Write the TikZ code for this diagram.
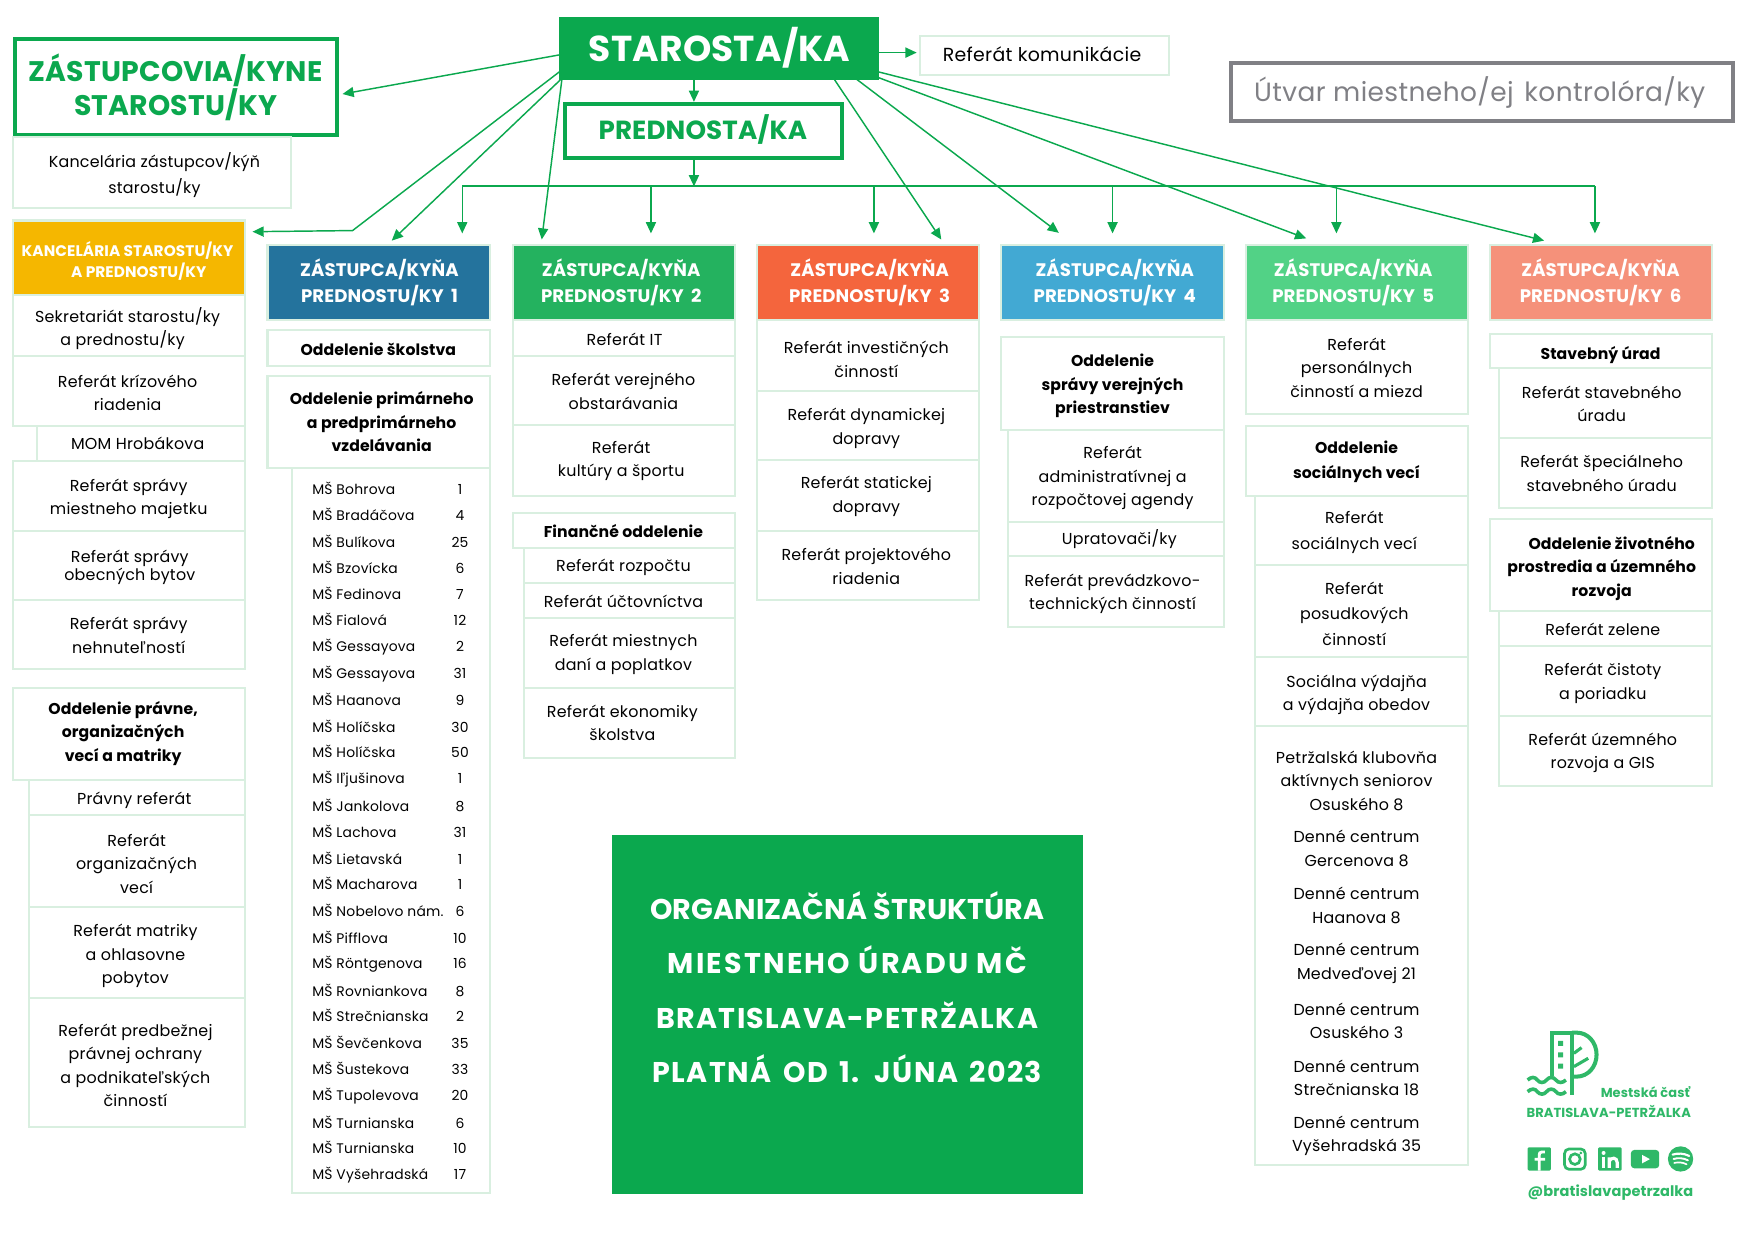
\documentclass[tikz,border=0pt]{standalone}
\usepackage{fontspec}
\setmainfont{Poppins}[LetterSpace=1.5,BoldFeatures={LetterSpace=0.5}]
\newfontfamily\ftA{Poppins}[LetterSpace=7.9]
\newfontfamily\ftB{Poppins}[LetterSpace=4.8]
\newfontfamily\ftC{Poppins}[LetterSpace=5.4]
\usetikzlibrary{arrows.meta,calc}
\definecolor{gr}{HTML}{0BA84E}
\definecolor{lb}{HTML}{D9EFE0}
\definecolor{lg}{HTML}{2FB868}
\definecolor{gy}{HTML}{808085}
\definecolor{cK}{HTML}{F5B700}
\definecolor{cA}{HTML}{24739D}
\definecolor{cB}{HTML}{24B25F}
\definecolor{cC}{HTML}{F4653D}
\definecolor{cD}{HTML}{42A9D3}
\definecolor{cE}{HTML}{52D286}
\definecolor{cF}{HTML}{F5917A}
\newcommand{\fbody}{\fontsize{14.2}{21}\selectfont}
\newcommand{\fbold}{\fontsize{14}{21}\selectfont\bfseries}
\newcommand{\fhead}{\fontsize{16.2}{23}\selectfont\bfseries}
\newcommand{\fms}{\fontsize{12.4}{14}\selectfont}
\tikzset{
 boxbase/.style={rectangle,inner sep=0pt,outer sep=0pt,draw=lb,line width=1.8pt,fill=white,font=\fbody,text=black},
 boldbox/.style={font=\fbold},
 headbox/.style={fill=#1,font=\fhead,text=white},
 framebox/.style={draw=gr,line width=3.6pt,text=gr},
 arr/.style={draw=gr,line width=1.3pt,-{Triangle[length=10pt,width=9pt]}},
 trunk/.style={draw=gr,line width=1.9pt},
 mstext/.style={font=\fms,text=black,inner sep=0pt,outer sep=0pt,text height=13pt,text depth=3pt},
 logotext/.style={text=lg,inner sep=0pt,outer sep=0pt},
 logoline/.style={draw=lg,line width=3.6pt},
}
\newcommand{\bx}[9][]{%
 \pgfmathsetmacro\bxw{#5-#3}\pgfmathsetmacro\bxh{#6-#4}%
 \pgfmathsetmacro\bxdx{2*(#7-(#3+#5)/2)}%
 \pgfmathsetmacro\bxdy{(#4+#6)/2-#8}%
 \node[boxbase,#1,minimum width=\bxw pt,minimum height=\bxh pt] (#2) at ({(#3+#5)/2},{(#4+#6)/2})
 {\hspace*{\bxdx pt}\raisebox{\dimexpr\bxdy pt-0.25em-1.7pt\relax}[0pt][0pt]{\begin{tabular}{@{}c@{}}#9\end{tabular}}};%
}
\begin{document}
\begin{tikzpicture}[x=1pt,y=-1pt]
\useasboundingbox (0,0) rectangle (1568,1108.9);
% top
\bx[fill=gr,draw=gr,text=white,font=\fontsize{32.2}{38}\selectfont\bfseries]{star}{500}{16}{784}{71}{643}{41.5}{STAROSTA/KA}
\bx[framebox,font=\fontsize{25.3}{31}\selectfont\bfseries]{zast}{13}{35}{301}{121}{157}{78.5}{ZÁSTUPCOVIA/KYNE\\[-3pt]STAROSTU/KY}
\bx{kzast}{12}{122}{260}{186}{138}{155.5}{Kancelária zástupcov/kýň\\[2pt]starostu/ky}
\bx[font=\fontsize{16.9}{21}\selectfont]{kom}{822}{32}{1044}{67}{931}{49}{Referát komunikácie}
\bx[draw=gy,line width=3.6pt,text=gy,font=\fontsize{23.6}{30}\selectfont]{utvar}{1100}{56}{1548}{108}{1322}{83}{Útvar miestneho/ej\hspace{3pt} kontrolóra/ky}
\bx[framebox,font=\fontsize{23.4}{30}\selectfont\bfseries]{pred}{505}{93}{752}{141}{628}{117}{PREDNOSTA/KA}
% headers
\bx[headbox=cK,font=\fontsize{13.7}{19}\selectfont\bfseries]{kanc}{12}{197}{219}{264}{114}{233.5}{KANCELÁRIA STAROSTU/KY\\\hspace*{20pt}A PREDNOSTU/KY}
\bx[headbox=cA]{z1}{239}{219}{438}{286}{339}{252.5}{ZÁSTUPCA/KYŇA\\PREDNOSTU/KY\hspace{3pt} 1}
\bx[headbox=cB]{z2}{458}{219}{657}{286}{555}{252.5}{ZÁSTUPCA/KYŇA\\PREDNOSTU/KY\hspace{3pt} 2}
\bx[headbox=cC]{z3}{676}{219}{875}{286}{777}{252.5}{ZÁSTUPCA/KYŇA\\PREDNOSTU/KY\hspace{3pt} 3}
\bx[headbox=cD]{z4}{894}{219}{1094}{286}{996}{252.5}{ZÁSTUPCA/KYŇA\\PREDNOSTU/KY\hspace{3pt} 4}
\bx[headbox=cE]{z5}{1113}{219}{1312}{286}{1209}{252.5}{ZÁSTUPCA/KYŇA\\PREDNOSTU/KY\hspace{3pt} 5}
\bx[headbox=cF]{z6}{1331}{219}{1530}{286}{1430}{252.5}{ZÁSTUPCA/KYŇA\\PREDNOSTU/KY\hspace{3pt} 6}
% column 0
\bx{a1}{12}{264}{219}{318}{114}{292.5}{Sekretariát starostu/ky\\\hspace*{-9pt}a prednostu/ky}
\bx{a2}{12}{318}{219}{381}{114}{350.5}{Referát krízového\\riadenia}
\bx{a3}{33}{381}{219}{412}{123}{396}{MOM Hrobákova}
\bx{a4}{12}{412}{219}{474}{115}{443.5}{Referát správy\\miestneho majetku}
\bx{a5}{12}{474}{219}{536}{116}{505}{Referát správy\\[-5pt]obecných bytov}
\bx{a6}{12}{536}{219}{598}{115}{567.5}{Referát správy\\nehnuteľností}
\bx[boldbox]{a7}{12}{615}{219}{697}{110}{653.5}{Oddelenie právne,\\organizačných\\vecí a matriky}
\bx{a8}{26}{697}{219}{728}{120}{713}{Právny referát}
\bx{a9}{26}{728}{219}{810}{122}{771}{Referát\\organizačných\\vecí}
\bx{a10}{26}{810}{219}{892}{121}{852}{Referát matriky\\a ohlasovne\\pobytov}
\bx{a11}{26}{892}{219}{1007}{121}{951.5}{Referát predbežnej\\právnej ochrany\\a podnikateľských\\činností}
% column 1
\bx[boldbox]{b1}{239}{295}{438}{327}{338}{312}{Oddelenie školstva}
\bx[boldbox]{b2}{239}{336}{438}{418}{341}{377}{Oddelenie primárneho\\a predprimárneho\\vzdelávania}
\node[boxbase,minimum width=177pt,minimum height=648pt] (b3) at (349.5,742) {};
\foreach \i/\t/\m/\y in {1/Bohrova/1/437,2/Bradáčova/4/460,3/Bulíkova/25/484,4/Bzovícka/6/507,5/Fedinova/7/531,6/Fialová/12/554,7/Gessayova/2/577,8/Gessayova/31/601,9/Haanova/9/625,10/Holíčska/30/649,11/Holíčska/50/672,12/Iľjušinova/1/695,13/Jankolova/8/720,14/Lachova/31/743,15/Lietavská/1/767,16/Macharova/1/790,17/Nobelovo nám./6/814,18/Pifflova/10/838,19/Röntgenova/16/860,20/Rovniankova/8/885,21/Strečnianska/2/908,22/Ševčenkova/35/932,23/Šustekova/33/955,24/Tupolevova/20/978,25/Turnianska/6/1003,26/Turnianska/10/1026,27/Vyšehradská/17/1049}{
  \node[mstext,anchor=west] (msn\i) at (279,\y) {MŠ \t};
  \node[mstext] (msc\i) at (411,\y) {\m};
}
% column 2
\bx{c1}{458}{286}{657}{318}{558}{303}{Referát IT}
\bx{c2}{458}{318}{657}{380}{557}{349.5}{Referát verejného\\obstarávania}
\bx{c3}{458}{380}{657}{443}{555}{409.5}{Referát\\kultúry a športu}
\bx[boldbox]{c4}{458}{458}{657}{490}{557}{474}{Finančné oddelenie}
\bx{c5}{468}{490}{657}{521}{557}{505}{Referát rozpočtu}
\bx{c6}{468}{521}{657}{552}{557}{537}{Referát účtovníctva}
\bx{c7}{468}{552}{657}{615}{557}{582.5}{Referát miestnych\\daní a poplatkov}
\bx{c8}{468}{615}{657}{677}{556}{645.5}{Referát ekonomiky\\školstva}
% column 3
\bx{d1}{676}{286}{875}{349}{774}{320.5}{Referát investičných\\činností}
\bx{d2}{676}{349}{875}{411}{774}{380.5}{Referát dynamickej\\dopravy}
\bx{d3}{676}{411}{875}{474}{774}{441.5}{Referát statickej\\dopravy}
\bx{d4}{676}{474}{875}{536}{774}{505.5}{Referát projektového\\riadenia}
% column 4
\bx[boldbox]{e1}{894}{301}{1094}{384}{994}{343}{Oddelenie\\správy verejných\\priestranstiev}
\bx{e2}{901}{384}{1094}{466}{994}{425}{Referát\\administratívnej a\\rozpočtovej agendy}
\bx{e3}{901}{466}{1094}{497}{1000}{481}{Upratovači/ky}
\bx{e4}{901}{497}{1094}{560}{994}{528.5}{Referát prevádzkovo-\\technických činností}
% column 5
\bx{f1}{1113}{286}{1312}{370}{1212}{328}{Referát\\personálnych\\činností a miezd}
\bx[boldbox]{f2}{1113}{381}{1312}{443}{1212}{410.5}{Oddelenie\\[2pt]sociálnych vecí}
\bx{f3}{1121}{443}{1312}{505}{1210}{473.5}{Referát\\[2pt]sociálnych vecí}
\bx{f4}{1121}{505}{1312}{587}{1210}{548}{Referát\\[2pt]posudkových\\[2pt]činností}
\bx{f5}{1121}{587}{1312}{649}{1212}{618.5}{Sociálna výdajňa\\a výdajňa obedov}
\bx{f6}{1121}{649}{1312}{1041}{1212}{849.5}{Petržalská klubovňa\\aktívnych seniorov\\Osuského 8\\[8pt]Denné centrum\\Gercenova 8\\[9pt]Denné centrum\\Haanova 8\\[8pt]Denné centrum\\Medveďovej 21\\[11pt]Denné centrum\\Osuského 3\\[9pt]Denné centrum\\Strečnianska 18\\[8pt]Denné centrum\\Vyšehradská 35}
% column 6
\bx[boldbox]{g1}{1331}{298}{1530}{329}{1430}{315}{Stavebný úrad}
\bx{g2}{1339}{329}{1530}{391}{1431}{360.5}{Referát stavebného\\úradu}
\bx{g3}{1339}{391}{1530}{454}{1431}{422.5}{Referát špeciálneho\\stavebného úradu}
\bx[boldbox]{g4}{1331}{464}{1530}{546}{1431}{506}{\hspace*{18pt}Oddelenie životného\\prostredia a územného\\rozvoja}
\bx{g5}{1339}{546}{1530}{577}{1432}{562}{Referát zelene}
\bx{g6}{1339}{577}{1530}{640}{1432}{608.5}{Referát čistoty\\a poriadku}
\bx{g7}{1339}{640}{1530}{702}{1432}{670.5}{Referát územného\\rozvoja a GIS}
% title
\bx[fill=gr,draw=gr,text=white,font=\fontsize{25.5}{48.4}\selectfont\bfseries]{title}{548}{747}{967}{1066}{757}{882.8}{ORGANIZAČNÁ ŠTRUKTÚRA\\\ftA\bfseries MIESTNEHO ÚRADU MČ\\\ftB\bfseries BRATISLAVA-PETRŽALKA\\\ftC\bfseries PLATNÁ\hspace{4pt} OD\hspace{3pt} 1.\hspace{4pt} JÚNA\hspace{3pt} 2023}
% connectors
\draw[arr] ($(star.north west)+(0,33)$) -- ($(zast.north east)+(5,49)$);
\draw[arr] ($(star.north west)+(0,48)$) -- ($(kanc.north east)+(96,9)$) -- ($(kanc.north east)+(6.6,10)$);
\draw[arr] ($(star.south west)+(1,0)$) -- ($(z1.north west)+(111,-4)$);
\draw[arr] ($(star.south west)+(2,0)$) -- ($(z2.north west)+(26,-5)$);
\draw[arr] ($(star.south west)+(120,0)$) -- ($(pred.north west)+(115,-2)$);
\coordinate (busL) at (413,166.5);
\coordinate (busM) at (620,166.5);
\coordinate (busR) at (1425,166.5);
\draw[trunk] (busL) -- (busR);
\draw[arr] ($(pred.south west)+(115,2)$) -- (busM);
\draw[arr] (busL) -- ($(z1.north west)+(174,-10.5)$);
\draw[arr] (581.6,166.5) -- ($(z2.north west)+(123.6,-10.5)$);
\draw[arr] (780.8,166.5) -- ($(z3.north west)+(104.8,-10.5)$);
\draw[arr] (994,166.5) -- ($(z4.north west)+(100,-10.5)$);
\draw[arr] (1194,166.5) -- ($(z5.north west)+(81,-10.5)$);
\draw[arr] (busR) -- ($(z6.north west)+(94,-10.5)$);
\draw[arr] ($(star.south west)+(245.5,0)$) -- ($(z3.north west)+(165,-5)$);
\draw[arr] ($(star.south west)+(265.6,0)$) -- ($(z4.north west)+(52,-11)$);
\draw[arr] ($(star.south east)+(0,-2)$) -- ($(z5.north west)+(54,-6)$);
\draw[arr] ($(star.south east)+(0,-7)$) -- ($(z6.north west)+(48.6,-4)$);
\draw[arr] ($(star.north east)+(0,31)$) -- ($(kom.north west)+(-3,15)$);
% logo
\begin{scope}[shift={(1322.2,893.4)},x=0.2978pt,y=-0.2978pt]
 \draw[logoline,line join=miter] (215,228) -- (215,98) -- (276,98) -- (276,285);
 \draw[logoline] (276,98) -- (290,98) .. controls (325,98) and (350,128) .. (350,164) .. controls (350,200) and (325,230) .. (290,230) -- (276,230);
 \fill[lg] (235,123) rectangle (250,138) (235,157) rectangle (250,172) (235,191) rectangle (250,206);
 \draw[logoline,line width=2.8pt] (282,160) -- (305,143) (282,200) -- (325,175);
 \draw[logoline,line width=3.2pt] (143,240) .. controls (155,230) and (165,230) .. (172,240) .. controls (180,250) and (192,250) .. (200,240) .. controls (208,230) and (220,230) .. (228,240) .. controls (235,250) and (248,250) .. (258,240);
 \draw[logoline,line width=3.2pt] (143,275) .. controls (155,265) and (165,265) .. (172,275) .. controls (180,285) and (192,285) .. (200,275) .. controls (208,265) and (220,265) .. (228,275) .. controls (235,285) and (248,285) .. (258,275);
 \node[logotext,anchor=east,font=\fontsize{11.6}{14}\selectfont\bfseries] (lgm) at (630,275) {Mestská časť};
 \node[logotext,anchor=west,font=\fontsize{11.7}{14}\selectfont\bfseries] (lgb) at (140,333) {BRATISLAVA-PETRŽALKA};
 \node[logotext,anchor=west,font=\fontsize{13}{16}\selectfont\bfseries] (lgh) at (143,577) {@bratislavapetrzalka};
 % facebook
 \fill[lg,rounded corners=1.2pt] (143,442) rectangle (213,512);
 \draw[white,line width=2.6pt] (195,456) -- (186,456) .. controls (180,456) and (178,460) .. (178,466) -- (178,512) (164,478) -- (196,478);
 % instagram
 \draw[lg,line width=2.4pt,rounded corners=4pt] (254,447) rectangle (316,508);
 \draw[lg,line width=2.4pt] (285,477.5) circle [radius=16];
 \fill[lg] (303,459) circle [radius=4.5];
 % linkedin
 \fill[lg,rounded corners=1pt] (355,442) rectangle (425,512);
 \fill[white] (366,472) rectangle (376,504);
 \fill[white] (371,459) circle [radius=6];
 \draw[white,line width=2.8pt] (388,472) -- (388,504) (388,484) .. controls (392,472) and (412,470) .. (412,488) -- (412,504);
 % youtube
 \fill[lg,rounded corners=3pt] (453,450) rectangle (538,505);
 \fill[white] (487,465) -- (487,490) -- (510,477.5) -- cycle;
 % spotify
 \fill[lg] (602,477) circle [radius=38];
 \draw[white,line width=1.9pt,line cap=round] (578,464) .. controls (595,459) and (612,460) .. (628,468);
 \draw[white,line width=1.7pt,line cap=round] (581,477) .. controls (595,473) and (610,474) .. (624,481);
 \draw[white,line width=1.5pt,line cap=round] (583,489) .. controls (596,486) and (608,487) .. (620,493);
\end{scope}
\end{tikzpicture}
\end{document}
